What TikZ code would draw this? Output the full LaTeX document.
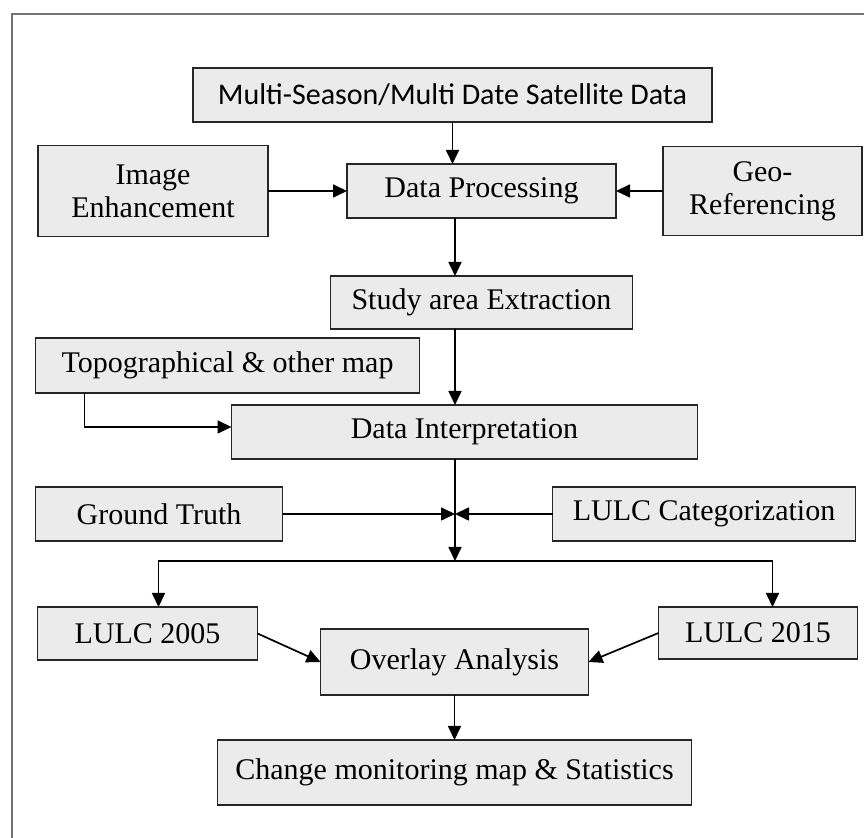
\documentclass[tikz,border=0pt]{standalone}
\usepackage{fontspec}
\setmainfont{Liberation Serif}
\newfontfamily\calibrifont{Carlito}
\usetikzlibrary{arrows.meta,positioning}

\begin{document}
\begin{tikzpicture}[
        x=0.5pt, y=-0.5pt,
        node distance=20pt and 20pt,
        box/.style={draw=black!85, fill=black!8, line width=0.8pt, align=center, outer sep=0pt,
            font=\fontsize{15}{16.5}\selectfont, inner sep=0pt, minimum height=27pt},
        arr/.style={-{Triangle[length=7pt,width=6.5pt]}, line width=0.85pt},
        frame/.style={draw=black!55, line width=1pt}
    ]
        \useasboundingbox (0,0) rectangle (864,838);
        \draw[frame] (12,838) -- (12,14) -- (864,14);
        \coordinate (axis) at (455,0);

        \node[box, minimum width=259.5pt, font=\calibrifont\fontsize{15}{17}\selectfont] (multi) at (452.5,95)
            {Multi-Season/Multi Date Satellite Data};
        \node[box, below=21pt of multi, xshift=14.5pt, minimum width=134.5pt] (proc) {Data Processing};
        \node[box, left=39.5pt of proc, minimum width=115pt, minimum height=45.5pt] (enh) {Image\\Enhancement};
        \node[box, right=23.5pt of proc, minimum width=99.5pt, minimum height=44.5pt] (geo) {Geo-\\Referencing};
        \node[box, below=29pt of proc, minimum width=151pt, minimum height=26.5pt] (study) {Study area Extraction};
        \node[box, below=38pt of study, xshift=-8.5pt, minimum width=233pt] (interp) {Data Interpretation};
        \node[box, above left=6pt and -94pt of interp, minimum width=192pt, minimum height=27.5pt] (topo)
            {Topographical \& other map};
        \node[box, below left=14pt and -25.5pt of interp, minimum width=123.5pt] (truth) {Ground Truth};
        \node[box, below right=14pt and -72.5pt of interp, minimum width=151.5pt] (categ) {LULC Categorization};
        \node[box, below=33pt of truth, xshift=-5.75pt, minimum width=110pt, minimum height=26.5pt] (lulca) {LULC 2005};
        \node[box, below=33pt of categ, xshift=27pt, minimum width=99.5pt, minimum height=26pt] (lulcb) {LULC 2015};
        \node[box, below=85pt of interp, xshift=-5pt, minimum width=134pt, minimum height=33pt] (overlay) {Overlay Analysis};
        \node[box, below=22.5pt of overlay, minimum width=237pt, minimum height=32.5pt] (change)
            {Change monitoring map \& Statistics};

        \coordinate (join) at (truth.east -| axis);
        \coordinate (split) at (455,561);

        \draw[arr] (multi.south) -- (multi.south |- proc.north);
        \draw[arr] (enh) -- (proc);
        \draw[arr] (geo) -- (proc);
        \draw[arr] (proc.south -| axis) -- (study.north -| axis);
        \draw[arr] (study.south -| axis) -- (interp.north -| axis);
        \draw[arr] ([xshift=24.5pt]topo.south west) |- ([yshift=2.5pt]interp.west);
        \draw[arr] (interp.south -| axis) -- (split);
        \draw[arr] (truth) -- (join);
        \draw[arr] (categ) -- (join);
        \draw[arr] (split) -| ([xshift=5.5pt]lulca.north);
        \draw[arr] (split) -| ([xshift=7.25pt]lulcb.north);
        \draw[arr] (lulca.east) -- (overlay.west);
        \draw[arr] (lulcb.west) -- (overlay.east);
        \draw[arr] (overlay) -- (change);
    \end{tikzpicture}
\end{document}
